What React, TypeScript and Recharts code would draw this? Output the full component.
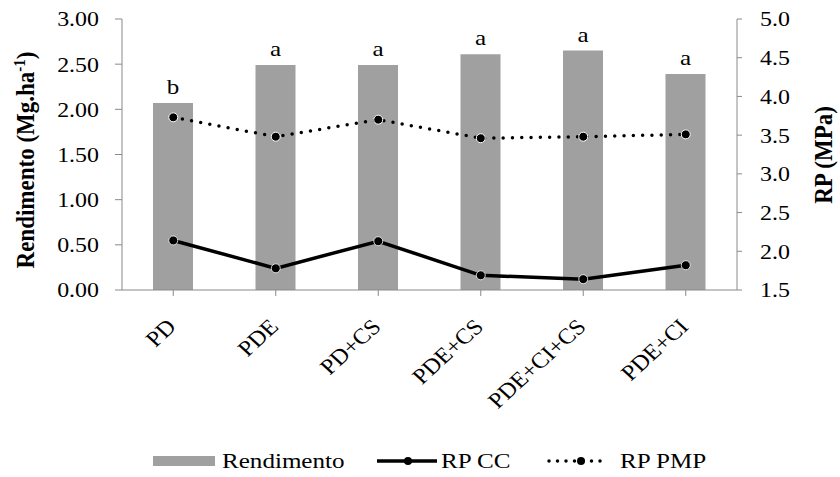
import React from 'react';
import { ComposedChart, Bar, Line, XAxis, YAxis, LabelList } from 'recharts';

const categories = ['PD', 'PDE', 'PD+CS', 'PDE+CS', 'PDE+CI+CS', 'PDE+CI'];
const rendimento = [2.07, 2.49, 2.49, 2.61, 2.65, 2.39];
const rpCC = [2.14, 1.78, 2.13, 1.69, 1.64, 1.82];
const rpPMP = [3.73, 3.48, 3.7, 3.46, 3.48, 3.51];
const letters = ['b', 'a', 'a', 'a', 'a', 'a'];
const leftTicks = [0, 0.5, 1, 1.5, 2, 2.5, 3];
const rightTicks = [1.5, 2, 2.5, 3, 3.5, 4, 4.5, 5];

const FONT = '"Liberation Serif", "Times New Roman", serif';
const AXIS = '#8a8a8a';
const BAR = '#a0a0a0';
const SX = 1.14; // the original is a little wider than tall

const chartData = categories.map((name, i) => ({
    name,
    rendimento: rendimento[i],
    rpCC: rpCC[i],
    rpPMP: rpPMP[i],
    letter: letters[i],
}));

const LeftTick = (props: any) => {
    const { x, y, payload } = props;
    return (
        <g transform={`translate(${x},${y}) scale(${SX},1)`}>
            <text x={0} y={0} dy="0.35em" textAnchor="end" fontFamily={FONT} fontSize={21} fill="#000">
                {Number(payload.value).toFixed(2)}
            </text>
        </g>
    );
};

const RightTick = (props: any) => {
    const { x, y, payload } = props;
    return (
        <g transform={`translate(${x},${y}) scale(${SX},1)`}>
            <text x={0} y={0} dy="0.35em" textAnchor="start" fontFamily={FONT} fontSize={21} fill="#000">
                {Number(payload.value).toFixed(1)}
            </text>
        </g>
    );
};

const CategoryTick = (props: any) => {
    const { x, y, payload } = props;
    return (
        <g transform={`translate(${x + 4},${y + 32})`}>
            <text x={0} y={0} textAnchor="end" transform={`scale(1.1,1) rotate(-45)`} fontFamily={FONT} fontSize={22} fill="#000">
                {payload.value}
            </text>
        </g>
    );
};

const LetterLabel = (props: any) => {
    const { x, y, width, value } = props;
    return (
        <g transform={`translate(${x + width / 2},${y - 9}) scale(${SX},1)`}>
            <text x={0} y={0} textAnchor="middle" fontFamily={FONT} fontSize={22} fill="#000">
                {value}
            </text>
        </g>
    );
};

const SolidDot = (props: any) => {
    const { cx, cy, index } = props;
    return <circle key={`cc-${index}`} cx={cx} cy={cy} r={4.5} fill="#000" stroke="#fff" strokeWidth={0.8} />;
};

const DottedDot = (props: any) => {
    const { cx, cy, index } = props;
    return <circle key={`pmp-${index}`} cx={cx} cy={cy} r={4.5} fill="#000" stroke="#fff" strokeWidth={1} />;
};

const LeftTitle = () => (
    <g transform={`translate(34,160) scale(${SX},1) rotate(-90)`}>
        <text x={0} y={0} textAnchor="middle" fontFamily={FONT} fontSize={23} fontWeight="bold" fill="#000">
            Rendimento (Mg.ha
            <tspan dy={-8} fontSize={15}>-1</tspan>
            <tspan dy={8}>)</tspan>
        </text>
    </g>
);

const RightTitle = () => (
    <g transform={`translate(832,155) scale(${SX},1) rotate(-90)`}>
        <text x={0} y={0} textAnchor="middle" fontFamily={FONT} fontSize={23} fontWeight="bold" fill="#000">
            RP (MPa)
        </text>
    </g>
);

const LegendOverlay = () => (
    <svg width={840} height={477} style={{ position: 'absolute', left: 0, top: 0, pointerEvents: 'none' }}>
        <rect x={153} y={456} width={62} height={10} fill={BAR} />
        <g transform={`translate(222,468) scale(${SX},1)`}>
            <text fontFamily={FONT} fontSize={22} fill="#000">Rendimento</text>
        </g>
        <line x1={377} y1={461} x2={437} y2={461} stroke="#000" strokeWidth={3.5} />
        <circle cx={408} cy={461} r={4} fill="#000" />
        <g transform={`translate(441,468) scale(${SX},1)`}>
            <text fontFamily={FONT} fontSize={22} fill="#000">RP CC</text>
        </g>
        <line x1={549} y1={461} x2={608} y2={461} stroke="#000" strokeWidth={3.5} strokeDasharray="0 8.5" strokeLinecap="round" />
        <circle cx={581} cy={461} r={4} fill="#000" />
        <g transform={`translate(620,468) scale(${SX},1)`}>
            <text fontFamily={FONT} fontSize={22} fill="#000">RP PMP</text>
        </g>
    </svg>
);

export default function App() {
    return (
        <div style={{ position: 'absolute', left: 0, top: 0, width: 840, height: 477, background: '#fff' }}>
            <ComposedChart width={840} height={477} data={chartData} margin={{ top: 19, right: 0, bottom: 0, left: 0 }}>
                <XAxis
                    dataKey="name"
                    height={187}
                    interval={0}
                    tick={<CategoryTick />}
                    tickSize={6}
                    tickMargin={0}
                    stroke={AXIS}
                    axisLine={{ stroke: AXIS }}
                    tickLine={{ stroke: AXIS }}
                />
                <YAxis
                    yAxisId="left"
                    width={122}
                    domain={[0, 3]}
                    ticks={leftTicks}
                    tick={<LeftTick />}
                    tickSize={7}
                    tickMargin={16}
                    axisLine={{ stroke: AXIS }}
                    tickLine={{ stroke: AXIS }}
                />
                <YAxis
                    yAxisId="right"
                    orientation="right"
                    width={103}
                    domain={[1.5, 5]}
                    ticks={rightTicks}
                    tick={<RightTick />}
                    tickSize={5}
                    tickMargin={18}
                    axisLine={{ stroke: AXIS }}
                    tickLine={{ stroke: AXIS }}
                />
                <Bar yAxisId="left" dataKey="rendimento" fill={BAR} barSize={40} isAnimationActive={false}>
                    <LabelList dataKey="letter" content={<LetterLabel />} />
                </Bar>
                <Line
                    yAxisId="right"
                    type="linear"
                    dataKey="rpCC"
                    stroke="#000"
                    strokeWidth={3.5}
                    dot={<SolidDot />}
                    activeDot={false}
                    isAnimationActive={false}
                />
                <Line
                    yAxisId="right"
                    type="linear"
                    dataKey="rpPMP"
                    stroke="#000"
                    strokeWidth={3.5}
                    strokeDasharray="0 9.3"
                    strokeLinecap="round"
                    dot={<DottedDot />}
                    activeDot={false}
                    isAnimationActive={false}
                />
                <LeftTitle />
                <RightTitle />
            </ComposedChart>
            <LegendOverlay />
        </div>
    );
}
